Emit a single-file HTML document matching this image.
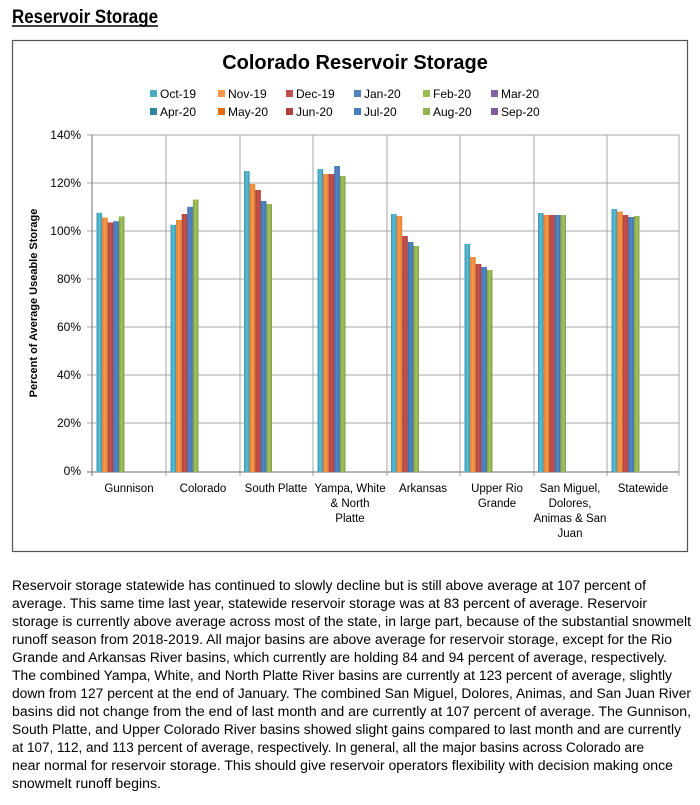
<!DOCTYPE html>
<html><head><meta charset="utf-8"><style>
html,body{margin:0;padding:0;background:#fff;}
svg{display:block;}
text{font-family:"Liberation Sans",sans-serif;}
</style></head><body>
<svg width="700" height="805" viewBox="0 0 700 805" xmlns="http://www.w3.org/2000/svg">
<defs>
<linearGradient id="g0" x1="0" x2="1"><stop offset="0" stop-color="#3a96ad"/><stop offset=".5" stop-color="#5cbdd6"/><stop offset="1" stop-color="#3a96ad"/></linearGradient>
<linearGradient id="g1" x1="0" x2="1"><stop offset="0" stop-color="#e07a25"/><stop offset=".5" stop-color="#fa9a4e"/><stop offset="1" stop-color="#e07a25"/></linearGradient>
<linearGradient id="g2" x1="0" x2="1"><stop offset="0" stop-color="#a53e3b"/><stop offset=".5" stop-color="#c9544f"/><stop offset="1" stop-color="#a53e3b"/></linearGradient>
<linearGradient id="g3" x1="0" x2="1"><stop offset="0" stop-color="#3b6aa5"/><stop offset=".5" stop-color="#5489c8"/><stop offset="1" stop-color="#3b6aa5"/></linearGradient>
<linearGradient id="g4" x1="0" x2="1"><stop offset="0" stop-color="#7f9e44"/><stop offset=".5" stop-color="#a3c460"/><stop offset="1" stop-color="#7f9e44"/></linearGradient>
</defs>
<text x="12" y="23" font-size="19" font-weight="bold" textLength="146" lengthAdjust="spacingAndGlyphs">Reservoir Storage</text>
<line x1="12" y1="26" x2="158" y2="26" stroke="#000" stroke-width="1.5"/>
<rect x="12.5" y="40.5" width="675" height="511" fill="#fff" stroke="#555" stroke-width="1.2"/>
<text x="355" y="69" font-size="20" font-weight="bold" text-anchor="middle">Colorado Reservoir Storage</text>
<g font-size="12">
<rect x="150" y="90" width="7" height="7" fill="#4bacc6"/><text x="160" y="98">Oct-19</text>
<rect x="218" y="90" width="7" height="7" fill="#f79646"/><text x="228" y="98">Nov-19</text>
<rect x="286" y="90" width="7" height="7" fill="#c0504d"/><text x="296" y="98">Dec-19</text>
<rect x="354" y="90" width="7" height="7" fill="#4f81bd"/><text x="364" y="98">Jan-20</text>
<rect x="423" y="90" width="7" height="7" fill="#9bbb59"/><text x="433" y="98">Feb-20</text>
<rect x="491" y="90" width="7" height="7" fill="#8064a2"/><text x="501" y="98">Mar-20</text>
<rect x="150" y="108" width="7" height="7" fill="#31859c"/><text x="160" y="116">Apr-20</text>
<rect x="218" y="108" width="7" height="7" fill="#e46c0a"/><text x="228" y="116">May-20</text>
<rect x="286" y="108" width="7" height="7" fill="#b0403d"/><text x="296" y="116">Jun-20</text>
<rect x="354" y="108" width="7" height="7" fill="#4a7ebb"/><text x="364" y="116">Jul-20</text>
<rect x="423" y="108" width="7" height="7" fill="#8fb350"/><text x="433" y="116">Aug-20</text>
<rect x="491" y="108" width="7" height="7" fill="#7a5f9a"/><text x="501" y="116">Sep-20</text>
</g>
<g stroke="#a6a6a6" stroke-width="1">
<line x1="92" y1="135" x2="679" y2="135"/><line x1="92" y1="183" x2="679" y2="183"/><line x1="92" y1="231" x2="679" y2="231"/>
<line x1="92" y1="279" x2="679" y2="279"/><line x1="92" y1="327" x2="679" y2="327"/><line x1="92" y1="375" x2="679" y2="375"/>
<line x1="92" y1="423" x2="679" y2="423"/>
<line x1="166" y1="135" x2="166" y2="476"/><line x1="240" y1="135" x2="240" y2="476"/><line x1="313" y1="135" x2="313" y2="476"/>
<line x1="387" y1="135" x2="387" y2="476"/><line x1="460" y1="135" x2="460" y2="476"/><line x1="534" y1="135" x2="534" y2="476"/>
<line x1="607" y1="135" x2="607" y2="476"/><line x1="679" y1="135" x2="679" y2="476"/>
<line x1="87" y1="135" x2="92" y2="135"/><line x1="87" y1="183" x2="92" y2="183"/><line x1="87" y1="231" x2="92" y2="231"/><line x1="87" y1="279" x2="92" y2="279"/><line x1="87" y1="327" x2="92" y2="327"/><line x1="87" y1="375" x2="92" y2="375"/><line x1="87" y1="423" x2="92" y2="423"/>
</g>
<g stroke="#888" stroke-width="1.2"><line x1="92" y1="135" x2="92" y2="476"/><line x1="87" y1="472" x2="679" y2="472"/></g>
<g font-size="12" text-anchor="end">
<text x="81" y="139">140%</text><text x="81" y="187">120%</text><text x="81" y="235">100%</text><text x="81" y="283">80%</text>
<text x="81" y="331">60%</text><text x="81" y="379">40%</text><text x="81" y="427">20%</text><text x="81" y="475">0%</text>
</g>
<text transform="translate(37,303) rotate(-90)" font-size="11" font-weight="bold" text-anchor="middle">Percent of Average Useable Storage</text>
<g font-size="11.5" text-anchor="middle">
<text x="129" y="492">Gunnison</text>
<text x="203" y="492">Colorado</text>
<text x="276" y="492">South Platte</text>
<text x="350" y="492">Yampa, White</text><text x="350" y="507">&amp; North</text><text x="350" y="522">Platte</text>
<text x="423" y="492">Arkansas</text>
<text x="497" y="492">Upper Rio</text><text x="497" y="507">Grande</text>
<text x="570" y="492">San Miguel,</text><text x="570" y="507">Dolores,</text><text x="570" y="522">Animas &amp; San</text><text x="570" y="537">Juan</text>
<text x="643" y="492">Statewide</text>
</g>
<g font-size="13.5" xml:space="preserve">
<text x="12" y="590" textLength="634" lengthAdjust="spacingAndGlyphs">Reservoir storage statewide has continued to slowly decline but is still above average at 107 percent of</text>
<text x="12" y="608" textLength="635" lengthAdjust="spacingAndGlyphs">average.  This same time last year, statewide reservoir storage was at 83 percent of average.  Reservoir</text>
<text x="12" y="626" textLength="679" lengthAdjust="spacingAndGlyphs">storage is currently above average across most of the state, in large part, because of the substantial snowmelt</text>
<text x="12" y="644" textLength="660" lengthAdjust="spacingAndGlyphs">runoff season from 2018-2019.  All major basins are above average for reservoir storage, except for the Rio</text>
<text x="12" y="662" textLength="655" lengthAdjust="spacingAndGlyphs">Grande and Arkansas River basins, which currently are holding 84 and 94 percent of average, respectively.</text>
<text x="12" y="680" textLength="660" lengthAdjust="spacingAndGlyphs">The combined Yampa, White, and North Platte River basins are currently at 123 percent of average, slightly</text>
<text x="12" y="698" textLength="679" lengthAdjust="spacingAndGlyphs">down from 127 percent at the end of January.  The combined San Miguel, Dolores, Animas, and San Juan River</text>
<text x="12" y="716" textLength="679" lengthAdjust="spacingAndGlyphs">basins did not change from the end of last month and are currently at 107 percent of average.  The Gunnison,</text>
<text x="12" y="734" textLength="669" lengthAdjust="spacingAndGlyphs">South Platte, and Upper Colorado River basins showed slight gains compared to last month and are currently</text>
<text x="12" y="752" textLength="632" lengthAdjust="spacingAndGlyphs">at 107, 112, and 113 percent of average, respectively.  In general, all the major basins across Colorado are</text>
<text x="12" y="770" textLength="661" lengthAdjust="spacingAndGlyphs">near normal for reservoir storage.  This should give reservoir operators flexibility with decision making once</text>
<text x="12" y="788" textLength="149" lengthAdjust="spacingAndGlyphs">snowmelt runoff begins.</text>
</g>
<g>
<rect x="96.5" y="212.8" width="5.6" height="259.2" fill="url(#g0)"/><rect x="102.1" y="217.6" width="5.6" height="254.4" fill="url(#g1)"/><rect x="107.7" y="222.4" width="5.6" height="249.6" fill="url(#g2)"/><rect x="113.3" y="221.2" width="5.6" height="250.8" fill="url(#g3)"/><rect x="118.9" y="216.4" width="5.6" height="255.6" fill="url(#g4)"/>
<rect x="170.5" y="224.8" width="5.6" height="247.2" fill="url(#g0)"/><rect x="176.1" y="220" width="5.6" height="252" fill="url(#g1)"/><rect x="181.7" y="214" width="5.6" height="258" fill="url(#g2)"/><rect x="187.3" y="206.8" width="5.6" height="265.2" fill="url(#g3)"/><rect x="192.9" y="199.6" width="5.6" height="272.4" fill="url(#g4)"/>
<rect x="244" y="171" width="5.6" height="301" fill="url(#g0)"/><rect x="249.6" y="184" width="5.6" height="288" fill="url(#g1)"/><rect x="255.2" y="190" width="5.6" height="282" fill="url(#g2)"/><rect x="260.8" y="201" width="5.6" height="271" fill="url(#g3)"/><rect x="266.4" y="204" width="5.6" height="268" fill="url(#g4)"/>
<rect x="317.5" y="169" width="5.6" height="303" fill="url(#g0)"/><rect x="323.1" y="174" width="5.6" height="298" fill="url(#g1)"/><rect x="328.7" y="174" width="5.6" height="298" fill="url(#g2)"/><rect x="334.3" y="166" width="5.6" height="306" fill="url(#g3)"/><rect x="339.9" y="176" width="5.6" height="296" fill="url(#g4)"/>
<rect x="391" y="214" width="5.6" height="258" fill="url(#g0)"/><rect x="396.6" y="216" width="5.6" height="256" fill="url(#g1)"/><rect x="402.2" y="236" width="5.6" height="236" fill="url(#g2)"/><rect x="407.8" y="242" width="5.6" height="230" fill="url(#g3)"/><rect x="413.4" y="246" width="5.6" height="226" fill="url(#g4)"/>
<rect x="464.5" y="244" width="5.6" height="228" fill="url(#g0)"/><rect x="470.1" y="257" width="5.6" height="215" fill="url(#g1)"/><rect x="475.7" y="264" width="5.6" height="208" fill="url(#g2)"/><rect x="481.3" y="267" width="5.6" height="205" fill="url(#g3)"/><rect x="486.9" y="270" width="5.6" height="202" fill="url(#g4)"/>
<rect x="538" y="213" width="5.6" height="259" fill="url(#g0)"/><rect x="543.6" y="215" width="5.6" height="257" fill="url(#g1)"/><rect x="549.2" y="215" width="5.6" height="257" fill="url(#g2)"/><rect x="554.8" y="215" width="5.6" height="257" fill="url(#g3)"/><rect x="560.4" y="215" width="5.6" height="257" fill="url(#g4)"/>
<rect x="611.5" y="209" width="5.6" height="263" fill="url(#g0)"/><rect x="617.1" y="211.5" width="5.6" height="260.5" fill="url(#g1)"/><rect x="622.7" y="215" width="5.6" height="257" fill="url(#g2)"/><rect x="628.3" y="217" width="5.6" height="255" fill="url(#g3)"/><rect x="633.9" y="216" width="5.6" height="256" fill="url(#g4)"/>
</g>
</svg>
</body></html>
